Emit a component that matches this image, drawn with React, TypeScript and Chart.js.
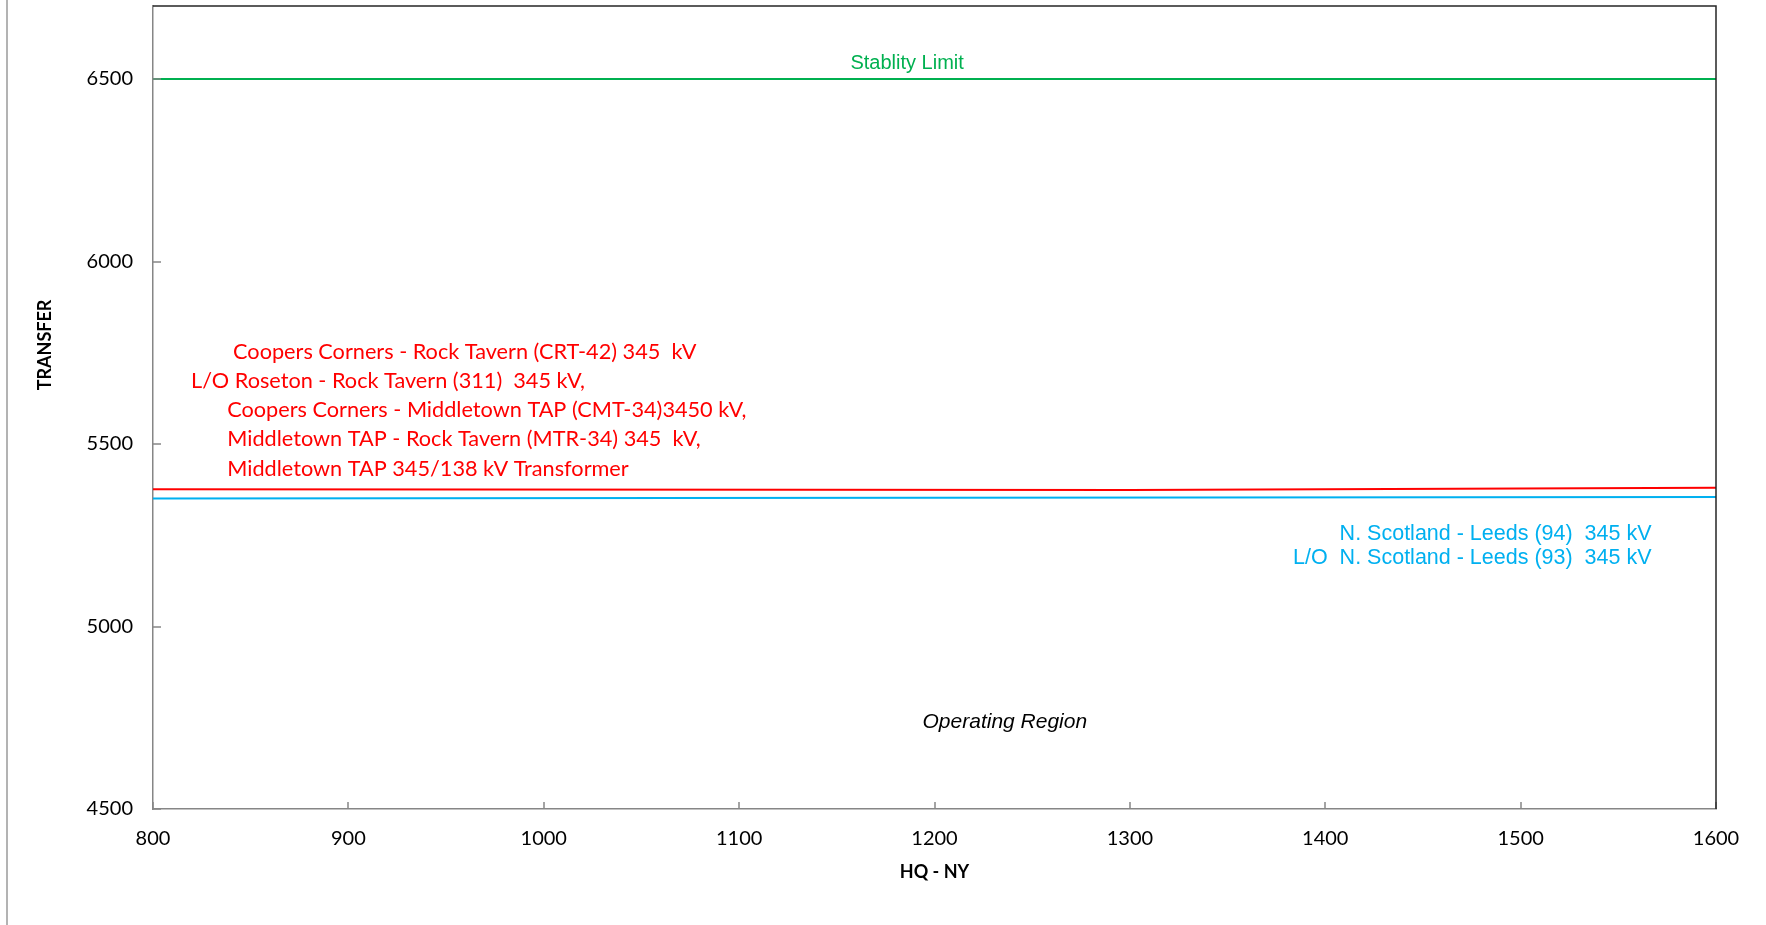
import React, { useEffect, useRef } from "react";
import { Chart, registerables } from "chart.js";

Chart.register(...registerables);

// ---- data ----
const xTicks = [800, 900, 1000, 1100, 1200, 1300, 1400, 1500, 1600];
const yTicks = [4500, 5000, 5500, 6000, 6500];
const xMin = 800;
const xMax = 1600;
const yMin = 4500;
const yMax = 6700;

const stabilityX = [800, 1600];
const stabilityY = [6500, 6500];

const redX = [800, 1300, 1600];
const redY = [5376, 5374, 5380];

const blueX = [800, 1600];
const blueY = [5351, 5355];

const stabilityLabel = "Stablity Limit";
const stabilityLabelPos = [1186, 6542];

const operatingLabel = "Operating Region";
const operatingLabelPos = [1236, 4738];

const redLabels = [
  "Coopers Corners - Rock Tavern (CRT-42) 345  kV",
  "L/O Roseton - Rock Tavern (311)  345 kV,",
  "Coopers Corners - Middletown TAP (CMT-34)3450 kV,",
  "Middletown TAP - Rock Tavern (MTR-34) 345  kV,",
  "Middletown TAP 345/138 kV Transformer",
];
const redLabelX = [841, 819.5, 838, 838, 838];
const redLabelY = [5752, 5672, 5593, 5513, 5431];

const blueLabels = [
  "N. Scotland - Leeds (94)  345 kV",
  "L/O  N. Scotland - Leeds (93)  345 kV",
];
const blueLabelX = 1567;
const blueLabelY = [5254, 5188];

const xTitle = "HQ - NY";
const yTitle = "TRANSFER";

const GREEN = "#00B050";
const RED = "#FF0000";
const BLUE = "#00B0F0";
const CAL = "Lato, 'Noto Sans', sans-serif";
const ARI = "'Liberation Sans', Arial, sans-serif";

const pts = (xs: number[], ys: number[]) => xs.map((x, i) => ({ x, y: ys[i] }));

const decorPlugin = {
  id: "decor",
  afterDraw(chart: any) {
    const ctx = chart.ctx as CanvasRenderingContext2D;
    const { left, right, top, bottom } = chart.chartArea;
    const xs = chart.scales.x;
    const ys = chart.scales.y;
    ctx.save();

    // inside tick marks
    ctx.strokeStyle = "#868686";
    ctx.lineWidth = 1.5;
    xTicks.forEach((v) => {
      const px = Math.round(xs.getPixelForValue(v));
      ctx.beginPath();
      ctx.moveTo(px, bottom);
      ctx.lineTo(px, bottom - 7);
      ctx.stroke();
    });
    yTicks.forEach((v) => {
      const py = Math.round(ys.getPixelForValue(v));
      ctx.beginPath();
      ctx.moveTo(left, py);
      ctx.lineTo(left + 8, py);
      ctx.stroke();
    });

    // top / right frame
    ctx.strokeStyle = "#262626";
    ctx.lineWidth = 1.5;
    ctx.beginPath();
    ctx.moveTo(left, top);
    ctx.lineTo(right, top);
    ctx.lineTo(right, bottom);
    ctx.stroke();

    // outer left border
    ctx.strokeStyle = "#9a9a9a";
    ctx.lineWidth = 1.5;
    ctx.beginPath();
    ctx.moveTo(7, 0);
    ctx.lineTo(7, chart.height);
    ctx.stroke();

    // annotations
    ctx.textBaseline = "middle";
    ctx.fillStyle = GREEN;
    ctx.font = `20px ${ARI}`;
    ctx.textAlign = "center";
    ctx.fillText(
      stabilityLabel,
      xs.getPixelForValue(stabilityLabelPos[0]),
      ys.getPixelForValue(stabilityLabelPos[1])
    );

    ctx.fillStyle = "#000000";
    ctx.font = `italic 21px ${ARI}`;
    ctx.fillText(
      operatingLabel,
      xs.getPixelForValue(operatingLabelPos[0]),
      ys.getPixelForValue(operatingLabelPos[1])
    );

    ctx.fillStyle = RED;
    ctx.font = `21.7px ${CAL}`;
    ctx.textAlign = "left";
    redLabels.forEach((t, i) => {
      ctx.fillText(t, xs.getPixelForValue(redLabelX[i]), ys.getPixelForValue(redLabelY[i]));
    });

    ctx.fillStyle = BLUE;
    ctx.font = `21.5px ${ARI}`;
    ctx.textAlign = "right";
    blueLabels.forEach((t, i) => {
      ctx.fillText(t, xs.getPixelForValue(blueLabelX), ys.getPixelForValue(blueLabelY[i]));
    });

    // axis titles
    ctx.fillStyle = "#000000";
    ctx.font = `bold 18px ${CAL}`;
    ctx.textAlign = "center";
    ctx.fillText(xTitle, (left + right) / 2, 872);
    ctx.translate(45, 345);
    ctx.rotate(-Math.PI / 2);
    ctx.fillText(yTitle, 0, 0);

    ctx.restore();
  },
};

export default function App() {
  const ref = useRef<HTMLCanvasElement | null>(null);

  useEffect(() => {
    if (!ref.current) return;
    const chart = new Chart(ref.current, {
      type: "scatter",
      data: {
        datasets: [
          {
            label: "Stability Limit",
            data: pts(stabilityX, stabilityY),
            showLine: true,
            borderColor: GREEN,
            borderWidth: 2,
            pointRadius: 0,
          },
          {
            label: "Coopers Corners",
            data: pts(redX, redY),
            showLine: true,
            borderColor: RED,
            borderWidth: 2,
            pointRadius: 0,
          },
          {
            label: "N. Scotland",
            data: pts(blueX, blueY),
            showLine: true,
            borderColor: BLUE,
            borderWidth: 2,
            pointRadius: 0,
          },
        ],
      },
      options: {
        responsive: false,
        animation: false,
        events: [],
        layout: { padding: { top: 6, right: 50, left: 0, bottom: 0 } },
        plugins: {
          legend: { display: false },
          tooltip: { enabled: false },
        },
        scales: {
          x: {
            type: "linear",
            min: xMin,
            max: xMax,
            afterBuildTicks: (s: any) => {
              s.ticks = xTicks.map((v) => ({ value: v }));
            },
            afterFit: (s: any) => {
              s.height = 116;
              s.paddingLeft = 0;
              s.paddingRight = 0;
            },
            grid: { display: false, drawTicks: false },
            border: { display: true, color: "#868686", width: 1.5 },
            ticks: {
              padding: 18,
              color: "#000000",
              font: { family: CAL, size: 20 },
              maxRotation: 0,
              autoSkip: false,
              callback: (v: any) => String(v),
            },
          },
          y: {
            type: "linear",
            min: yMin,
            max: yMax,
            afterBuildTicks: (s: any) => {
              s.ticks = yTicks.map((v) => ({ value: v }));
            },
            afterFit: (s: any) => {
              s.width = 153;
              s.paddingTop = 0;
              s.paddingBottom = 0;
            },
            grid: { display: false, drawTicks: false },
            border: { display: true, color: "#868686", width: 1.5 },
            ticks: {
              padding: 20,
              color: "#000000",
              font: { family: CAL, size: 20 },
              autoSkip: false,
              callback: (v: any) => String(v),
            },
          },
        },
      },
      plugins: [decorPlugin],
    });
    return () => chart.destroy();
  }, []);

  return (
    <div style={{ position: "absolute", left: 0, top: 0, width: 1766, height: 925, background: "#fff" }}>
      <canvas ref={ref} width={1766} height={925} style={{ display: "block" }} />
    </div>
  );
}
